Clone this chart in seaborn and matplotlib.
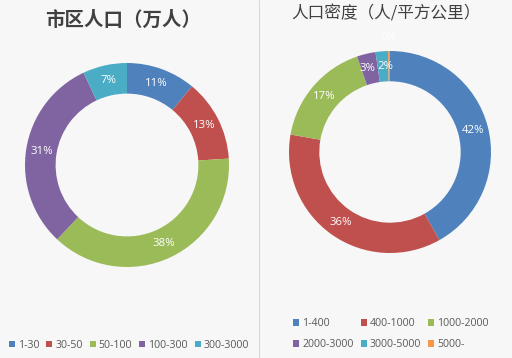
import math
import matplotlib
matplotlib.use("Agg")
import matplotlib.pyplot as plt
import seaborn as sns
from matplotlib.patches import Patch
from matplotlib.lines import Line2D

sns.set_theme(style="white")
plt.rcParams['font.family'] = ['Noto Sans CJK SC', 'DejaVu Sans']

# Data
left_title = "市区人口（万人）"
left_cats = ["1-30", "30-50", "50-100", "100-300", "300-3000"]
left_vals = [11, 13, 38, 31, 7]

right_title = "人口密度（人/平方公里）"
right_cats = ["1-400", "400-1000", "1000-2000", "2000-3000", "3000-5000", "5000-"]
right_vals = [42, 36, 17, 3, 2, 0.3]

colors = ["#4F81BD", "#C0504D", "#9BBB59", "#8064A2", "#4BACC6", "#F79646"]
LBL_FONT = ["Open Sans", "DejaVu Sans"]

W, H = 512, 358
fig = plt.figure(figsize=(W / 100, H / 100), dpi=100)
fig.patch.set_facecolor("#f7f7f7")


def donut(ax, vals, cols, nudge=None):
    nudge = nudge or {}
    ax.pie(vals, colors=cols, startangle=90, counterclock=False,
           radius=1.0, wedgeprops=dict(width=0.30, edgecolor="none"))
    total = sum(vals)
    ang = 90.0
    for i, v in enumerate(vals):
        mid = ang - 360.0 * v / total / 2
        ang -= 360.0 * v / total
        r = 1.13 if round(v) == 0 else 0.85
        dx = nudge.get(i, 0.0)
        x = r * math.cos(math.radians(mid)) + dx
        y = r * math.sin(math.radians(mid))
        ax.text(x, y, f"{round(v)}%", ha="center", va="center", color="white",
                fontsize=8.2, family=LBL_FONT)
    ax.set_xlim(-1, 1)
    ax.set_ylim(-1, 1)
    ax.set_aspect("equal")
    ax.axis("off")


axL = fig.add_axes([25 / W, (H - 267) / H, 204 / W, 204 / H])
donut(axL, left_vals, colors[:5])
axR = fig.add_axes([289 / W, (H - 253) / H, 202 / W, 202 / H])
donut(axR, right_vals, colors, nudge={3: -0.02, 4: 0.02})

# divider
fig.add_artist(Line2D([259 / W, 259 / W], [0, 1], color="#d9d9d9", lw=0.8))

fig.text(123 / W, 1 - 20 / H, left_title, ha="center", va="center",
         fontsize=14, fontweight="bold", color="#404040")
fig.text(386 / W, 1 - 14 / H, right_title, ha="center", va="center",
         fontsize=12, color="#404040")

hL = [Patch(facecolor=c, edgecolor="none") for c in colors[:5]]
fig.legend(hL, left_cats, loc="center", bbox_to_anchor=(129 / W, 1 - 345 / H),
           ncol=5, frameon=False, handlelength=0.57, handleheight=0.57,
           handletextpad=0.3, columnspacing=0.65, labelcolor="#595959",
           borderpad=0, prop={"family": LBL_FONT, "size": 7.6})

order = [0, 3, 1, 4, 2, 5]
hR = [Patch(facecolor=colors[i], edgecolor="none") for i in order]
fig.legend(hR, [right_cats[i] for i in order], loc="center",
           bbox_to_anchor=(391 / W, 1 - 334 / H),
           ncol=3, frameon=False, handlelength=0.57, handleheight=0.57,
           handletextpad=0.3, columnspacing=0.65, labelspacing=0.95,
           labelcolor="#595959", borderpad=0,
           prop={"family": LBL_FONT, "size": 7.6})

fig.savefig("out.png", dpi=100, facecolor=fig.get_facecolor())
